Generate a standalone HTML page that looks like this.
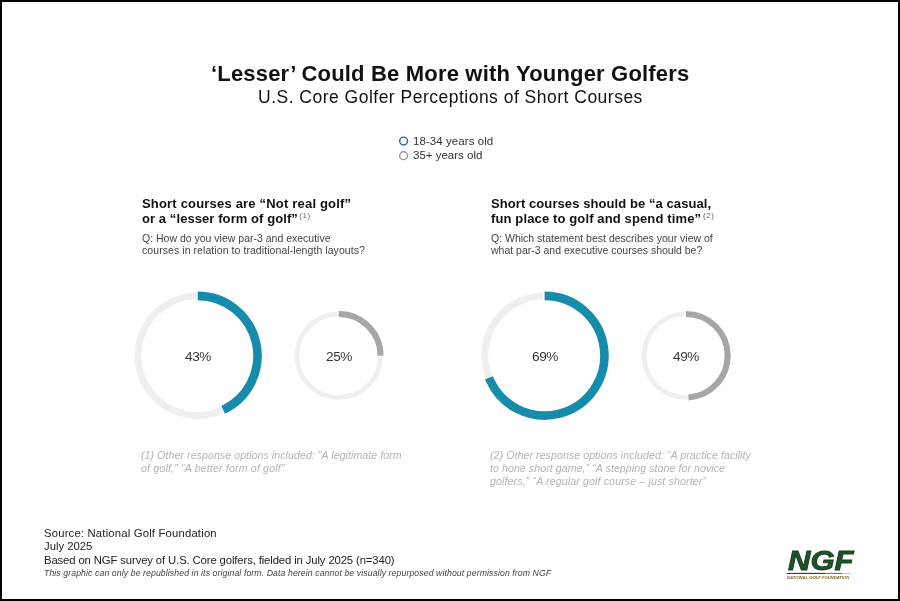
<!DOCTYPE html>
<html><head><meta charset="utf-8">
<style>
html,body{margin:0;padding:0;background:#fff;}
body{width:900px;height:601px;position:relative;overflow:hidden;font-family:"Liberation Sans",sans-serif;}
#frame{position:absolute;left:0;top:0;width:896px;height:597px;border:2px solid #000;}
.t{position:absolute;white-space:nowrap;line-height:1;will-change:transform;}
.b{font-weight:bold;}
.sup{font-weight:normal;font-size:8px;vertical-align:5px;color:#666;letter-spacing:0.6px;margin-left:-2.5px;}
.pc{width:60px;text-align:center;font-size:13.6px;color:#383838;letter-spacing:-0.45px;}
svg{position:absolute;left:0;top:0;will-change:transform;}
</style></head><body>
<div id="frame"></div>
<svg width="900" height="601">
<circle cx="403.6" cy="141" r="3.9" fill="none" stroke="#1a7093" stroke-width="1.45"/>
<circle cx="403.6" cy="155.7" r="3.9" fill="none" stroke="#999" stroke-width="1.45"/>
<path d="M222.53 410.10A59.8 59.8 0 1 1 196.00 295.92" fill="none" stroke="#efefef" stroke-width="6.9"/>
<path d="M197.70 295.90A59.8 59.8 0 0 1 223.16 409.81" fill="none" stroke="#168cad" stroke-width="8.6"/>
<path d="M380.49 356.40A41.8 41.8 0 1 1 337.00 313.93" fill="none" stroke="#efefef" stroke-width="4.7"/>
<path d="M338.70 313.90A41.8 41.8 0 0 1 380.50 355.70" fill="none" stroke="#a6a6a6" stroke-width="6.0"/>
<path d="M488.75 377.06A59.8 59.8 0 0 1 542.90 295.92" fill="none" stroke="#efefef" stroke-width="6.9"/>
<path d="M544.60 295.90A59.8 59.8 0 1 1 489.00 377.71" fill="none" stroke="#168cad" stroke-width="8.6"/>
<path d="M687.73 397.46A41.8 41.8 0 1 1 684.10 313.93" fill="none" stroke="#efefef" stroke-width="4.7"/>
<path d="M685.80 313.90A41.8 41.8 0 0 1 688.42 397.42" fill="none" stroke="#a6a6a6" stroke-width="6.0"/>

<text x="788" y="569.9" font-family="Liberation Sans" font-weight="bold" font-style="italic" font-size="27.8" fill="#1d5427" stroke="#143d1d" stroke-width="0.9" textLength="65.5" lengthAdjust="spacingAndGlyphs">NGF</text>
<rect x="787" y="572.9" width="38" height="1.1" fill="#1f4a2a"/>
<rect x="825" y="572.9" width="9" height="1.1" fill="#d0505a"/>
<rect x="834" y="572.9" width="8" height="1.1" fill="#3a78b8"/>
<rect x="842" y="572.9" width="9" height="1.1" fill="#c8c8c8"/>
<text x="787" y="578.9" font-family="Liberation Sans" font-weight="bold" font-style="italic" font-size="3.9" fill="#7a6a30" textLength="62.3" lengthAdjust="spacingAndGlyphs">NATIONAL GOLF FOUNDATION</text>
</svg>
<div id="title" class="t b" style="left:210.5px;top:62.88px;font-size:22px;color:#111;letter-spacing:0.18px;">‘Lesser’ Could Be More with Younger Golfers</div>
<div id="sub" class="t" style="left:257.5px;top:89.09px;font-size:17.5px;color:#111;letter-spacing:0.49px;">U.S. Core Golfer Perceptions of Short Courses</div>
<div id="leg1" class="t" style="left:413px;top:135.87px;font-size:11.5px;color:#333;letter-spacing:0.07px;">18-34 years old</div>
<div id="leg2" class="t" style="left:413px;top:150.27px;font-size:11.5px;color:#333;">35+ years old</div>
<div id="h1a" class="t b" style="left:141.5px;top:196.8px;font-size:13px;color:#111;letter-spacing:0.19px;">Short courses are “Not real golf”</div>
<div id="h1b" class="t b" style="left:141.5px;top:212.3px;font-size:13px;color:#111;letter-spacing:0.08px;">or a “lesser form of golf” <span class="sup">(1)</span></div>
<div id="q1a" class="t" style="left:141.5px;top:232.71px;font-size:10.5px;color:#444;">Q: How do you view par-3 and executive</div>
<div id="q1b" class="t" style="left:141.5px;top:245.41px;font-size:10.5px;color:#444;letter-spacing:0.07px;">courses in relation to traditional-length layouts?</div>
<div id="h2a" class="t b" style="left:491px;top:196.8px;font-size:13px;color:#111;letter-spacing:0.08px;">Short courses should be “a casual,</div>
<div id="h2b" class="t b" style="left:491px;top:212.3px;font-size:13px;color:#111;letter-spacing:0.13px;">fun place to golf and spend time” <span class="sup" style="margin-left:-2px">(2)</span></div>
<div id="q2a" class="t" style="left:491px;top:232.71px;font-size:10.5px;color:#444;">Q: Which statement best describes your view of</div>
<div id="q2b" class="t" style="left:491px;top:245.41px;font-size:10.5px;color:#444;">what par-3 and executive courses should be?</div>
<div id="p1" class="t pc" style="left:167.7px;top:350.19px;">43%</div>
<div id="p2" class="t pc" style="left:308.7px;top:350.19px;">25%</div>
<div id="p3" class="t pc" style="left:514.6px;top:350.19px;">69%</div>
<div id="p4" class="t pc" style="left:655.8px;top:350.19px;">49%</div>
<div id="f1a" class="t" style="left:141px;top:449.93px;font-size:10.6px;font-style:italic;color:#b4b4b4;letter-spacing:0.07px;">(1) Other response options included: “A legitimate form</div>
<div id="f1b" class="t" style="left:141px;top:462.73px;font-size:10.6px;font-style:italic;color:#b4b4b4;letter-spacing:0.17px;">of golf,” “A better form of golf”</div>
<div id="f2a" class="t" style="left:489.5px;top:449.83px;font-size:10.6px;font-style:italic;color:#b4b4b4;letter-spacing:0.07px;">(2) Other response options included: “A practice facility</div>
<div id="f2b" class="t" style="left:489.5px;top:462.73px;font-size:10.6px;font-style:italic;color:#b4b4b4;letter-spacing:0.07px;">to hone short game,” “A stepping stone for novice</div>
<div id="f2c" class="t" style="left:489.5px;top:476.03px;font-size:10.6px;font-style:italic;color:#b4b4b4;letter-spacing:0.13px;">golfers,” “A regular golf course – just shorter”</div>
<div id="s1" class="t" style="left:44px;top:527.93px;font-size:11.3px;color:#222;letter-spacing:0.18px;">Source: National Golf Foundation</div>
<div id="s2" class="t" style="left:44px;top:540.93px;font-size:11.3px;color:#222;">July 2025</div>
<div id="s3" class="t" style="left:44px;top:555.13px;font-size:11.3px;color:#222;letter-spacing:-0.12px;">Based on NGF survey of U.S. Core golfers, fielded in July 2025 (n=340)</div>
<div id="s4" class="t" style="left:44px;top:569.04px;font-size:8.7px;font-style:italic;color:#444;letter-spacing:0.1px;">This graphic can only be republished in its original form. Data herein cannot be visually repurposed without permission from NGF</div>
</body></html>
